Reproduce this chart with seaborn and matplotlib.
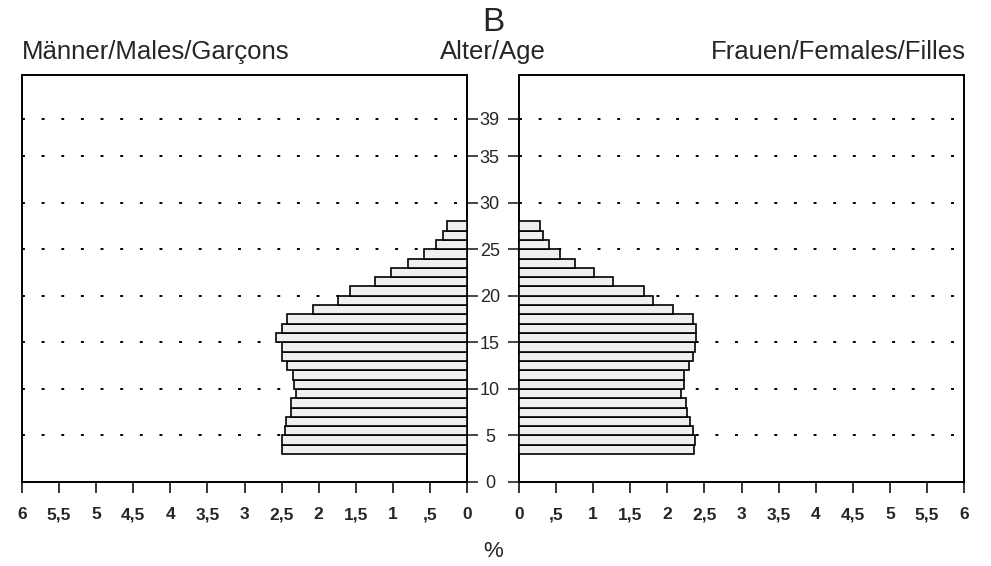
import matplotlib
matplotlib.use('Agg')
import matplotlib.pyplot as plt
import pandas as pd
import numpy as np
import seaborn as sns

# ages (one bar per year of age), read top to bottom from the picture
ages = [27, 26, 25, 24, 23, 22, 21, 20, 19, 18, 17, 16, 15, 14, 13, 12, 11, 10, 9, 8, 7, 6, 5, 4, 3]
males = [0.27, 0.33, 0.42, 0.58, 0.79, 1.03, 1.24, 1.58, 1.74, 2.08, 2.43, 2.50, 2.58, 2.49, 2.49,
         2.43, 2.35, 2.33, 2.31, 2.37, 2.37, 2.44, 2.46, 2.50, 2.50]
females = [0.28, 0.33, 0.41, 0.55, 0.75, 1.01, 1.27, 1.69, 1.80, 2.07, 2.34, 2.39, 2.39, 2.37, 2.35,
           2.29, 2.23, 2.23, 2.19, 2.25, 2.26, 2.30, 2.34, 2.37, 2.36]

age_ticks = [0, 5, 10, 15, 20, 25, 30, 35, 39]
grid_ages = [5, 10, 15, 20, 25, 30, 35, 39]
pct_ticks = [0, 0.5, 1, 1.5, 2, 2.5, 3, 3.5, 4, 4.5, 5, 5.5, 6]
pct_labels = ['0', ',5', '1', '1,5', '2', '2,5', '3', '3,5', '4', '4,5', '5', '5,5', '6']

df = pd.DataFrame({'age': ages, 'Males': males, 'Females': females})
df['mid'] = df['age'] + 0.5  # bar covers [age, age+1]

sns.set_style('white')
plt.rcParams['font.family'] = ['Liberation Sans', 'DejaVu Sans']

fig = plt.figure(figsize=(9.91, 5.66), dpi=100)
axL = fig.add_axes([22/991, 1 - 482/566, 445/991, 407/566])
axR = fig.add_axes([519/991, 1 - 482/566, 445/991, 407/566])

ymax = 407 / 9.31

for ax, col in [(axL, 'Males'), (axR, 'Females')]:
    sns.barplot(data=df, x=col, y='mid', orient='h', native_scale=True, width=1,
                color='#efefef', edgecolor='black', linewidth=1.2, ax=ax, zorder=3)
    for g in grid_ages:
        ax.axhline(g, color='black', lw=1.4, ls=(0, (1.5, 8.6)), zorder=1)
    ax.set_ylim(0, ymax)
    ax.set_xlim(0, 6)
    ax.set_xlabel('')
    ax.set_ylabel('')
    ax.set_xticks(pct_ticks)
    ax.set_xticklabels(pct_labels, fontsize=12.5, fontweight='bold')
    ax.tick_params(axis='x', direction='out', length=8, width=1.3, pad=10, bottom=True)
    for s in ax.spines.values():
        s.set_linewidth(1.4)
        s.set_color('black')

axL.set_xlim(6, 0)
axL.yaxis.tick_right()
axL.set_yticks(age_ticks)
axL.set_yticklabels([])
axL.tick_params(axis='y', direction='out', length=8, width=1.2, right=True, left=False)

axR.set_yticks(age_ticks)
axR.set_yticklabels([str(a) for a in age_ticks], fontsize=13)
axR.tick_params(axis='y', direction='out', length=8, width=1.2, left=True, right=False, pad=13)
for lab in axR.get_yticklabels():
    lab.set_ha('center')

fig.text(493/991, 1 - 31/566, 'B', ha='center', va='baseline', fontsize=24)
fig.text(493/991, 1 - 59/566, 'Alter/Age', ha='center', va='baseline', fontsize=18.5)
fig.text(22/991, 1 - 59/566, 'Männer/Males/Garçons', ha='left', va='baseline', fontsize=18.5)
fig.text(966/991, 1 - 59/566, 'Frauen/Females/Filles', ha='right', va='baseline', fontsize=18.5)
fig.text(493/991, 1 - 557/566, '%', ha='center', va='baseline', fontsize=16)

fig.savefig('out.png', dpi=100)
